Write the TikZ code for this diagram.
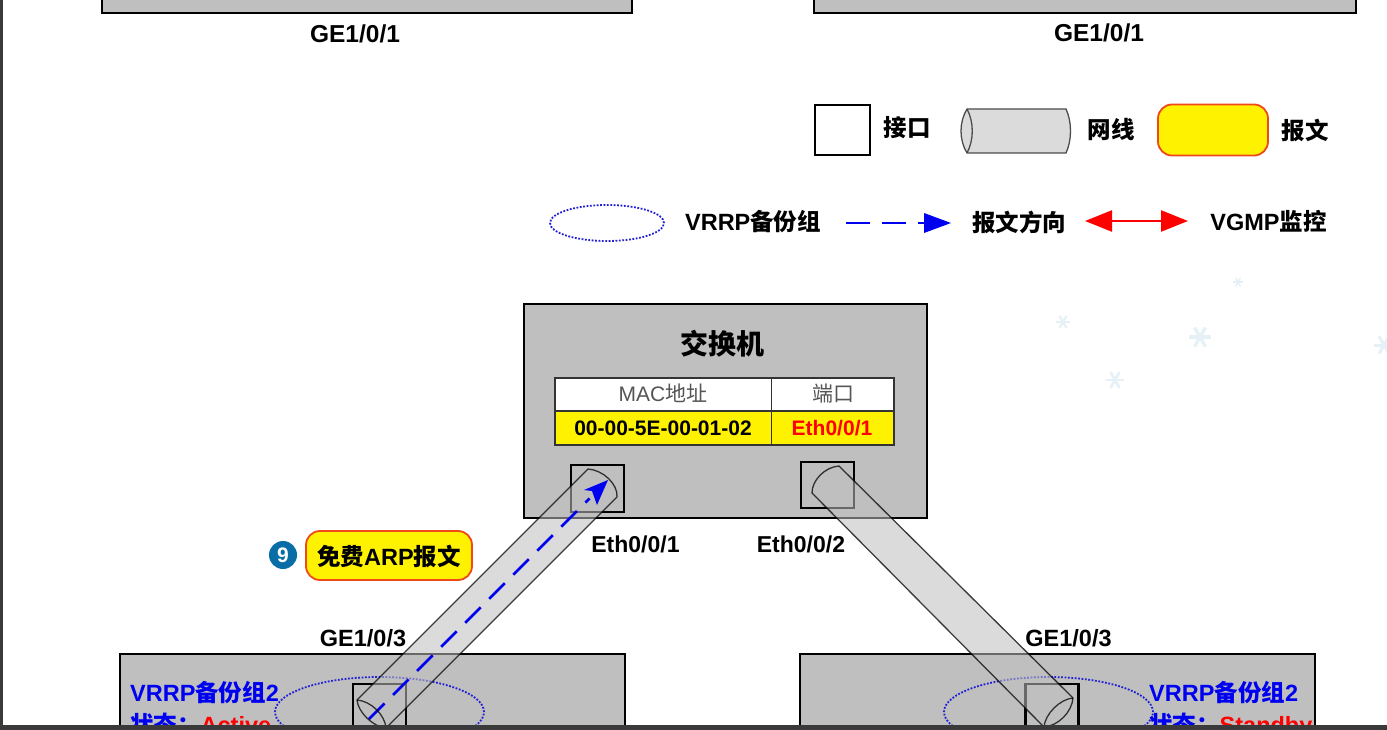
\documentclass[tikz,border=0pt]{standalone}
\usepackage{fontspec}
\setmainfont{Liberation Sans}
\newfontfamily\cjk{Noto Sans CJK SC}
\newcommand{\zh}[1]{{\cjk #1}}
\usetikzlibrary{arrows.meta,shapes.geometric,calc}
\definecolor{boxgray}{HTML}{BFBFBF}
\definecolor{cablefill}{HTML}{BFBFBF}
\definecolor{edgeorange}{HTML}{F0481A}
\definecolor{framegray}{HTML}{3A3A3A}
\definecolor{vrrpblue}{HTML}{0000F0}
\definecolor{badgeblue}{HTML}{0A6EA6}
\definecolor{flakeblue}{HTML}{E6F1F7}
\definecolor{tabletext}{HTML}{555555}
\tikzset{
  device/.style={draw=black,line width=2.4pt,fill=boxgray,inner sep=0pt},
  portbox/.style={draw=black,line width=2.6pt},
  cablebody/.style={fill=cablefill,fill opacity=.55},
  cableline/.style={draw=black,draw opacity=.75,line width=1.3pt},
  vgroup/.style={draw=vrrpblue!75!gray,line width=1.8pt,dash pattern=on 1.8pt off 1.6pt},
  msgbox/.style={draw=edgeorange,line width=1.8pt,fill=yellow,rounded corners=14pt},
  lab/.style={inner sep=0pt,text=black,font=\bfseries\fontsize{23.5}{26}\selectfont},
  blueLab/.style={inner sep=0pt,anchor=base west,text=vrrpblue,font=\bfseries\fontsize{23.5}{26}\selectfont},
  cell/.style={inner sep=0pt,font=\fontsize{21}{24}\selectfont},
  flowarrow/.style={draw=vrrpblue,line width=2.6pt,dash pattern=on 22pt off 12pt},
  cellframe/.style={draw=black!80,line width=1.6pt},
}
\newcommand{\flake}[3]{%
  \foreach \a in {0,60,120}{\draw[flakeblue,line width=#3*.3pt] ($(#1,#2)+(\a:#3)$) -- ($(#1,#2)+(\a+180:#3)$);}}
\begin{document}
\begin{tikzpicture}[x=1pt,y=-1pt]
\useasboundingbox (0,0) rectangle (1387,730);
\clip (0,0) rectangle (1387,730);
\fill[white] (0,0) rectangle (1387,730);

% faint background flakes
\flake{1063}{322}{7}\flake{1200}{337}{11}\flake{1115}{380}{9}\flake{1384}{345}{10}\flake{1238}{282}{5}

% devices
\node[device,minimum width=530pt,minimum height=33pt] (dtl) at (367,-3.5) {};
\node[device,minimum width=542pt,minimum height=33pt] (dtr) at (1085,-3.5) {};
\node[device,minimum width=403pt,minimum height=214pt] (swbox) at (725.5,411) {};
\node[device,minimum width=505pt,minimum height=106pt] (dbl) at (372.5,707) {};
\node[device,minimum width=515pt,minimum height=106pt] (dbr) at (1057.5,707) {};

% ports
\node[portbox,minimum width=53pt,minimum height=47pt,inner sep=0pt] (p1) at (597.5,488.5) {};
\node[portbox,minimum width=53pt,minimum height=46pt,inner sep=0pt] (p2) at (827.5,485) {};
\node[portbox,minimum width=53pt,minimum height=60pt,inner sep=0pt] (p3) at (379.5,714) {};
\node[portbox,minimum width=53pt,minimum height=60pt,inner sep=0pt] (p4) at (1052,714) {};

% VRRP groups
\node[vgroup,ellipse,minimum width=209pt,minimum height=70pt,inner sep=0pt] (g1) at (379.5,712) {};
\node[vgroup,ellipse,minimum width=209pt,minimum height=70pt,inner sep=0pt] (g2) at (1048.5,712) {};

% switch
\node[lab,font=\bfseries\fontsize{28}{30}\selectfont] (swname) at (722,344) {\zh{交换机}};
\fill[white] (555,378) rectangle (894,411);
\fill[yellow] (555,411) rectangle (894,445);
\draw[cellframe] (555,378) rectangle (894,445);
\draw[cellframe] (555,411) -- (894,411);
\draw[cellframe] (771.5,378) -- (771.5,445);
\node[cell,text=tabletext] (h1) at (663,393.5) {MAC\zh{地址}};
\node[cell,text=tabletext] (h2) at (833,393.5) {\zh{端口}};
\node[cell,font=\bfseries\fontsize{21}{24}\selectfont] (v1) at (663,428) {00-00-5E-00-01-02};
\node[cell,text=red,font=\bfseries\fontsize{21}{24}\selectfont] (v2) at (832,428) {Eth0/0/1};

% cables
\coordinate (c1a) at (588,469); \coordinate (c1b) at (617,497);
\coordinate (c1c) at (386,728); \coordinate (c1d) at (357,700);
\coordinate (c2a) at (839,466); \coordinate (c2b) at (812,493);
\coordinate (c2c) at (1044,727); \coordinate (c2d) at (1073,698);

\path[cablebody] (c1a) .. controls (603,470) and (618,484) .. (c1b) -- (c1c) -- (c1d) -- cycle;
\path[cablebody] (c2a) .. controls (825,467) and (812,480) .. (c2b) -- (c2c) -- (c2d) -- cycle;

% flow on the first cable
\coordinate (f1s) at (369,719); \coordinate (f1e) at (608,480);
\draw[flowarrow] (f1s) -- ($(f1e)!26pt!(f1s)$);
\fill[vrrpblue] (f1e) -- (584,490) -- (592,491) -- (597,505) -- cycle;

\draw[cableline] (c1c) -- (c1b) .. controls (618,484) and (603,470) .. (c1a) -- (c1d);
\draw[cableline] (c1d) .. controls (358,712) and (373,727) .. (c1c);
\draw[cableline] (c1d) .. controls (371,701) and (385,715) .. (c1c);
\draw[cableline] (c2c) -- (c2b) .. controls (812,480) and (825,467) .. (c2a) -- (c2d);
\draw[cableline] (c2d) .. controls (1060,699) and (1045,714) .. (c2c);
\draw[cableline] (c2d) .. controls (1072,712) and (1058,726) .. (c2c);

% port and switch labels
\node[lab,font=\bfseries\fontsize{24.5}{26}\selectfont] (ge1l) at (355,34) {GE1/0/1};
\node[lab,font=\bfseries\fontsize{24.5}{26}\selectfont] (ge1r) at (1099,33) {GE1/0/1};
\node[lab,font=\bfseries\fontsize{23}{26}\selectfont] (eth1) at (635.5,544) {Eth0/0/1};
\node[lab,font=\bfseries\fontsize{23}{26}\selectfont] (eth2) at (801,544) {Eth0/0/2};
\node[lab] (ge3l) at (363,638) {GE1/0/3};
\node[lab] (ge3r) at (1068.5,638) {GE1/0/3};

% group text
\node[blueLab] (t1) at (130,701) {VRRP\zh{备份组}2};
\node[blueLab] (t2) at (130,733) {\zh{状态：}\textcolor{red}{Active}};
\node[blueLab] (t3) at (1149,701) {VRRP\zh{备份组}2};
\node[blueLab] (t4) at (1149,733) {\zh{状态：}\textcolor{red}{Standby}};

% packet and badge
\node[msgbox,minimum width=166pt,minimum height=49pt,inner sep=0pt] (msg) at (389,555.5) {};
\node[lab] (msgt) at (389,556) {\zh{免费}ARP\zh{报文}};
\node[circle,fill=badgeblue,minimum size=28pt,inner sep=0pt,text=white,font=\bfseries\fontsize{21}{24}\selectfont] (badge) at (283,555) {9};

% legend
\node[portbox,fill=white,minimum width=55pt,minimum height=50pt,inner sep=0pt] (lport) at (842.5,130) {};
\node[lab] (lportt) at (907,128) {\zh{接口}};
\coordinate (cyA) at (967,109); \coordinate (cyB) at (1066,109);
\coordinate (cyC) at (1066,153); \coordinate (cyD) at (967,153);
\draw[fill=black!14,draw=black!70,line width=1.3pt] (cyA) -- (cyB) .. controls (1072,122) and (1072,140) .. (cyC) -- (cyD) .. controls (959,140) and (959,122) .. (cyA) -- cycle;
\draw[draw=black!70,line width=1.3pt] (cyA) .. controls (974,122) and (974,140) .. (cyD);
\node[lab] (lcablet) at (1111,130) {\zh{网线}};
\node[msgbox,minimum width=110pt,minimum height=51pt,inner sep=0pt] (lmsg) at (1213,130) {};
\node[lab] (lmsgt) at (1305,130) {\zh{报文}};

\node[vgroup,ellipse,minimum width=114pt,minimum height=36pt,inner sep=0pt] (lgroup) at (607,223) {};
\node[lab] (lgroupt) at (753,222) {VRRP\zh{备份组}};
\coordinate (la) at (846,223); \coordinate (lb) at (951,223);
\draw[flowarrow,dash pattern=on 24pt off 12pt] (la) -- (925,223);
\fill[vrrpblue] (lb) -- (924,213) -- (924,233) -- cycle;
\node[lab] (lflowt) at (1019,222) {\zh{报文方向}};
\coordinate (ra) at (1085,221); \coordinate (rb) at (1188,221);
\draw[red,line width=2.4pt,{Triangle[length=27pt,width=21pt]}-{Triangle[length=27pt,width=21pt]}] (ra) -- (rb);
\node[lab] (lvgmp) at (1268.5,221) {VGMP\zh{监控}};

% viewer frame
\fill[framegray] (0,0) rectangle (3,730);
\fill[framegray] (0,725) rectangle (1387,730);
\end{tikzpicture}
\end{document}
